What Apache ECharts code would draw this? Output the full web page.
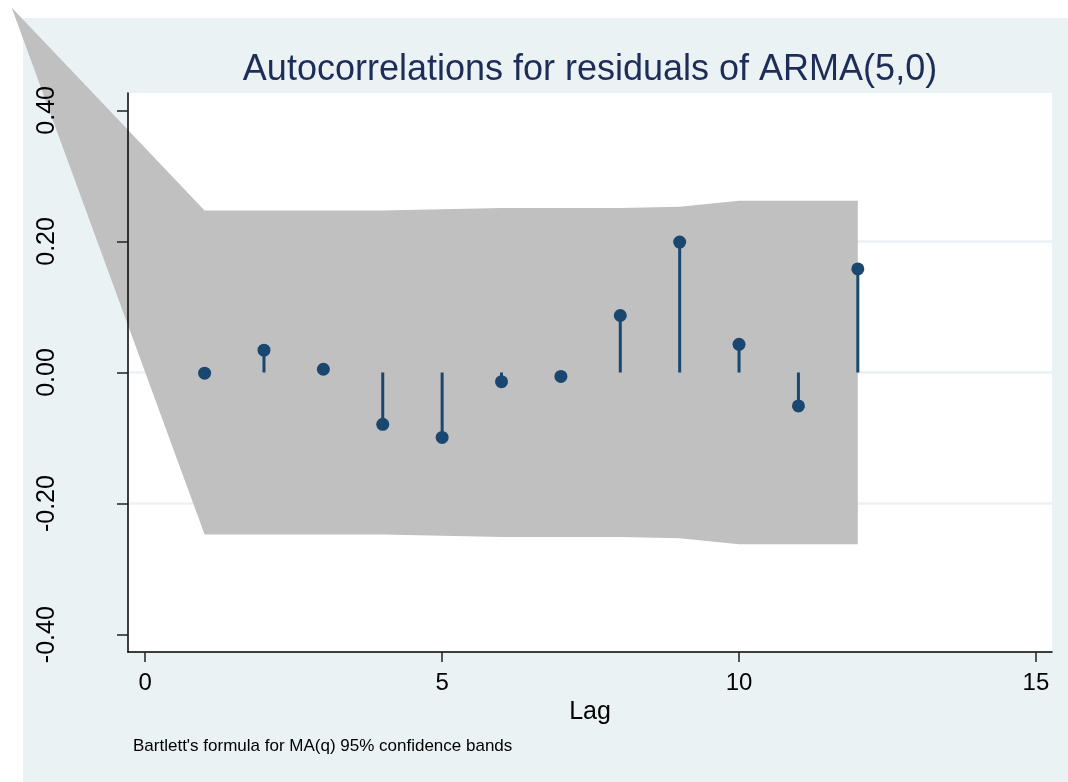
<!DOCTYPE html>
<html>
<head>
<meta charset="utf-8">
<title>Autocorrelations for residuals of ARMA(5,0)</title>
<script src="https://cdn.jsdelivr.net/npm/echarts@6/dist/echarts.min.js"></script>
<style>
  html, body { margin: 0; padding: 0; background: #ffffff; }
  #wrap { position: relative; width: 1068px; height: 782px; overflow: hidden; }
  #region { position: absolute; left: 23px; top: 18px; right: 0; bottom: 0; background: #eaf2f3; }
  #chart { position: absolute; left: 0; top: 0; width: 1068px; height: 782px; }
</style>
</head>
<body>
<div id="wrap">
  <div id="region"></div>
  <div id="chart"></div>
</div>
<script>
// Residual autocorrelations by lag
const lags = [1, 2, 3, 4, 5, 6, 7, 8, 9, 10, 11, 12];
const acf = [-0.001, 0.034, 0.005, -0.079, -0.099, -0.014, -0.006, 0.087, 0.199, 0.043, -0.051, 0.158];

// Bartlett 95% confidence band, upper and lower edge at each lag
const bandUpper = [0.247, 0.247, 0.247, 0.247, 0.249, 0.251, 0.251, 0.251, 0.253, 0.262, 0.262, 0.262];
const bandLower = [-0.247, -0.247, -0.247, -0.247, -0.249, -0.251, -0.251, -0.251, -0.253, -0.262, -0.262, -0.262];
// left end of the band polygon, where both edges meet
const bandApex = [-2.25, 0.557];

// Axis ticks and labels
const xTicks = [0, 5, 10, 15];
const yTicks = [-0.4, -0.2, 0, 0.2, 0.4];
const yGrid = [-0.2, 0, 0.2];

const xRange = [-0.29, 15.27];
const yRange = [-0.4264, 0.4264];

const NAVY = '#1a476f';
const FONT = '"Liberation Sans", Arial, Helvetica, sans-serif';

const chart = echarts.init(document.getElementById('chart'), null, { renderer: 'canvas' });

chart.setOption({
  backgroundColor: 'transparent',
  animation: false,
  textStyle: { fontFamily: FONT },
  grid: {
    left: 128, top: 93, width: 924, height: 559,
    show: true, backgroundColor: '#ffffff', borderWidth: 0, z: 0
  },
  graphic: [
    {
      type: 'text', x: 590, y: 70, z: 20,
      style: {
        text: 'Autocorrelations for residuals of ARMA(5,0)',
        font: '36px ' + FONT, fill: '#1e2d58',
        textAlign: 'center', textVerticalAlign: 'middle'
      }
    },
    {
      type: 'text', x: 133, y: 746, z: 20,
      style: {
        text: "Bartlett's formula for MA(q) 95% confidence bands",
        font: '17px ' + FONT, fill: '#000000',
        textAlign: 'left', textVerticalAlign: 'middle'
      }
    }
  ],
  xAxis: {
    type: 'value', min: xRange[0], max: xRange[1], z: 10,
    name: 'Lag', nameLocation: 'middle', nameGap: 45,
    nameTextStyle: { fontSize: 25, color: '#000', fontFamily: FONT },
    axisLine: { show: true, onZero: false, lineStyle: { color: '#000', width: 1.5 } },
    axisTick: { show: true, customValues: xTicks, length: 10, lineStyle: { color: '#222', width: 1.5 } },
    axisLabel: { customValues: xTicks, fontSize: 24, color: '#000', margin: 19, fontFamily: FONT },
    splitLine: { show: false }
  },
  yAxis: {
    type: 'value', min: yRange[0], max: yRange[1], z: 10,
    axisLine: { show: true, onZero: false, lineStyle: { color: '#000', width: 1.5 } },
    axisTick: { show: true, customValues: yTicks, length: 11, lineStyle: { color: '#222', width: 1.5 } },
    axisLabel: {
      customValues: yTicks, fontSize: 25, color: '#000', margin: 68, rotate: 90,
      fontFamily: FONT,
      formatter: v => v.toFixed(2)
    },
    splitLine: { show: false }
  },
  series: [
    {
      // light horizontal grid lines
      type: 'custom', z: 1, silent: true,
      data: yGrid.map(v => [v]),
      renderItem: (params, api) => {
        const v = api.value(0);
        const a = api.coord([xRange[0], v]);
        const b = api.coord([xRange[1], v]);
        return {
          type: 'line',
          shape: { x1: a[0], y1: a[1], x2: b[0], y2: b[1] },
          style: { stroke: '#eaf2f3', lineWidth: 2.5 }
        };
      }
    },
    {
      // confidence band polygon
      type: 'custom', z: 2, silent: true, clip: false,
      data: [[0]],
      renderItem: (params, api) => {
        const pts = [api.coord(bandApex)];
        lags.forEach((k, i) => pts.push(api.coord([k, bandUpper[i]])));
        for (let i = lags.length - 1; i >= 0; i--) pts.push(api.coord([lags[i], bandLower[i]]));
        return {
          type: 'polygon',
          shape: { points: pts },
          style: { fill: '#c0c0c0', stroke: null }
        };
      }
    },
    {
      // stems from zero to each autocorrelation
      type: 'custom', z: 3, silent: true,
      data: lags.map((k, i) => [k, acf[i]]),
      renderItem: (params, api) => {
        const a = api.coord([api.value(0), 0]);
        const b = api.coord([api.value(0), api.value(1)]);
        return {
          type: 'line',
          shape: { x1: a[0], y1: a[1], x2: b[0], y2: b[1] },
          style: { stroke: NAVY, lineWidth: 3 }
        };
      }
    },
    {
      type: 'scatter', z: 4, silent: true,
      symbol: 'circle', symbolSize: 13,
      itemStyle: { color: NAVY, opacity: 1 },
      data: lags.map((k, i) => [k, acf[i]])
    }
  ]
});
</script>
</body>
</html>
